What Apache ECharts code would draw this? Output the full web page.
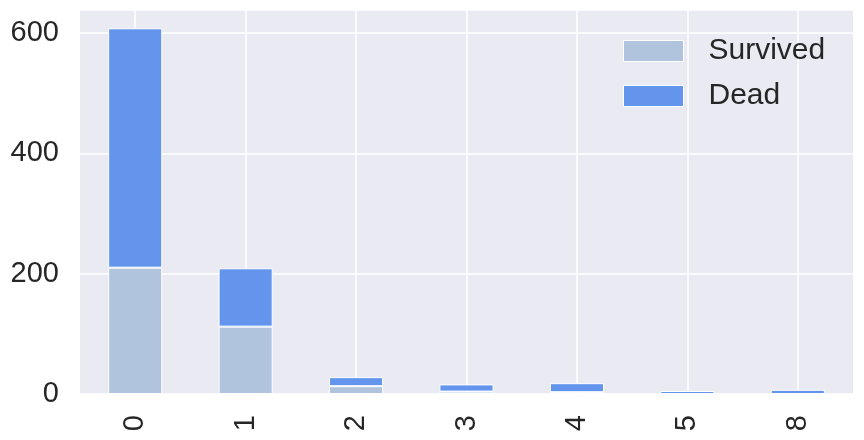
<!DOCTYPE html>
<html>
<head>
<meta charset="utf-8">
<script src="https://cdn.jsdelivr.net/npm/echarts@6/dist/echarts.min.js"></script>
<style>html,body{margin:0;padding:0;background:#fff;}#c{width:864px;height:440px;}</style>
</head>
<body>
<div id="c"></div>
<script>
const categories = ['0', '1', '2', '3', '4', '5', '8'];
const survived = [210, 112, 13, 4, 3, 0, 0];
const dead = [398, 97, 15, 12, 15, 5, 7];
const yTicks = [0, 200, 400, 600];

const chart = echarts.init(document.getElementById('c'), null, {renderer: 'canvas'});
const font = 'Liberation Sans, Arial, sans-serif';
chart.setOption({
  animation: false,
  backgroundColor: '#ffffff',
  grid: {left: 80, right: 11, top: 10, bottom: 46, backgroundColor: '#EAEAF2', show: true, borderWidth: 0},
  legend: {
    data: ['Survived', 'Dead'],
    orient: 'vertical',
    left: 618, top: 31,
    itemWidth: 60, itemHeight: 21, itemGap: 15,
    icon: 'rect',
    textStyle: {fontFamily: font, fontSize: 30, color: '#262626', padding: [0, 0, 0, 20]},
    itemStyle: {borderColor: '#ffffff', borderWidth: 1}
  },
  xAxis: {
    type: 'category',
    data: categories,
    axisLine: {show: false},
    axisTick: {show: false},
    splitLine: {show: true, alignWithLabel: true, lineStyle: {color: '#ffffff', width: 1.5}},
    axisLabel: {rotate: 90, margin: 21, fontFamily: font, fontSize: 29, color: '#262626'}
  },
  yAxis: {
    type: 'value',
    min: 0, max: 638.4, interval: 200,
    axisLine: {show: false},
    axisTick: {show: false},
    splitLine: {show: true, lineStyle: {color: '#ffffff', width: 1.5}},
    axisLabel: {margin: 21, fontFamily: font, fontSize: 29, color: '#262626',
      formatter: v => yTicks.includes(v) ? String(v) : ''}
  },
  series: [
    {name: 'Survived', type: 'bar', stack: 't', data: survived, barWidth: '49%',
      itemStyle: {color: '#B0C4DE', borderColor: '#ffffff', borderWidth: 1}},
    {name: 'Dead', type: 'bar', stack: 't', data: dead, barWidth: '49%',
      itemStyle: {color: '#6495ED', borderColor: '#ffffff', borderWidth: 1}}
  ]
});
</script>
</body>
</html>
